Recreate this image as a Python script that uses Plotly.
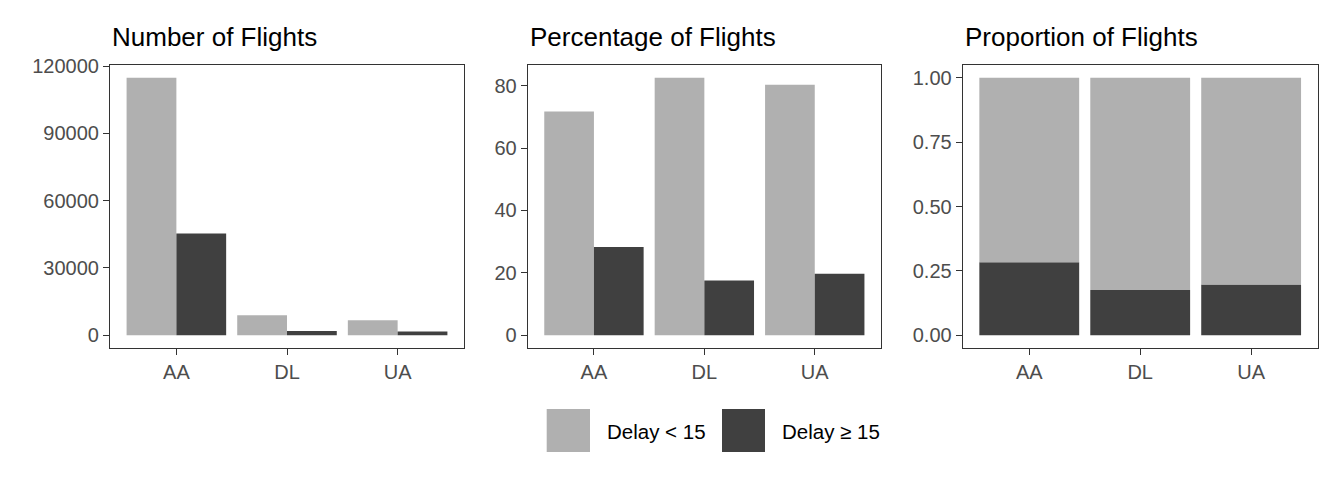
import plotly.graph_objects as go
from plotly.subplots import make_subplots

carriers = ["AA", "DL", "UA"]
labels = ["Delay < 15", "Delay ≥ 15"]
colors = ["#B0B0B0", "#404040"]

# counts
n_ontime = [114800, 8870, 6650]
n_delayed = [45300, 1880, 1630]

# percentages
pct_ontime = [71.7, 82.5, 80.3]
pct_delayed = [28.3, 17.5, 19.7]

prop_ontime = [p / 100 for p in pct_ontime]
prop_delayed = [p / 100 for p in pct_delayed]

titles = ["Number of Flights", "Percentage of Flights", "Proportion of Flights"]

W, H = 1344, 480
FONT = "Liberation Sans, Arial, sans-serif"

fig = make_subplots(rows=1, cols=3)

# grouped bars in panels 1 and 2
for col, (a, b) in enumerate([(n_ontime, n_delayed), (pct_ontime, pct_delayed)], start=1):
    fig.add_trace(go.Bar(x=carriers, y=a, name=labels[0], marker_color=colors[0],
                         marker_line_width=0, offsetgroup="a", showlegend=False), row=1, col=col)
    fig.add_trace(go.Bar(x=carriers, y=b, name=labels[1], marker_color=colors[1],
                         marker_line_width=0, offsetgroup="b", showlegend=False), row=1, col=col)

# stacked proportions in panel 3 (same offsetgroup, light bar sits on the dark one)
fig.add_trace(go.Bar(x=carriers, y=prop_delayed, name=labels[1], marker_color=colors[1],
                     marker_line_width=0, offsetgroup="s", showlegend=False), row=1, col=3)
fig.add_trace(go.Bar(x=carriers, y=prop_ontime, base=prop_delayed, name=labels[0],
                     marker_color=colors[0], marker_line_width=0, offsetgroup="s",
                     showlegend=False), row=1, col=3)

# panel placement, in pixels
x_px = [(110, 464), (527.7, 881), (962.7, 1317.7)]
y_dom = [1 - 348 / H, 1 - 65 / H]


def padded(vmax):
    return [-0.05 * vmax, 1.05 * vmax]


y_ranges = [padded(max(n_ontime)), padded(max(pct_ontime)), padded(1.0)]
y_ticks = [[0, 30000, 60000, 90000, 120000], [0, 20, 40, 60, 80], [0, 0.25, 0.5, 0.75, 1.0]]
y_fmt = ["d", "d", ".2f"]

axis_style = dict(showline=True, linecolor="#333333", linewidth=1.1, mirror=True,
                  ticks="outside", ticklen=6, tickwidth=1.1, tickcolor="#333333",
                  showgrid=False, zeroline=False, automargin=False,
                  tickfont=dict(family=FONT, size=20, color="#4D4D4D"))

for i in range(3):
    sfx = "" if i == 0 else str(i + 1)
    x0, x1 = x_px[i]
    fig.layout["xaxis" + sfx].update(domain=[x0 / W, x1 / W], range=[-0.6, 2.6], **axis_style)
    fig.layout["yaxis" + sfx].update(domain=y_dom, range=y_ranges[i], tickvals=y_ticks[i],
                                     tickformat=y_fmt[i], **axis_style)
    fig.add_annotation(text=titles[i], xref="paper", yref="paper", x=x0 / W, y=1 - 54 / H,
                       xanchor="left", yanchor="bottom", showarrow=False,
                       font=dict(family=FONT, size=26, color="black"))

# legend drawn by hand below the panels
keys = [(546.7, 590), (722, 765)]
text_x = [605, 780]
for k in range(2):
    fig.add_shape(type="rect", xref="paper", yref="paper",
                  x0=keys[k][0] / W, x1=keys[k][1] / W, y0=1 - 452 / H, y1=1 - 409 / H,
                  fillcolor=colors[k], line_width=0)
    fig.add_annotation(text=labels[k], xref="paper", yref="paper", x=text_x[k] / W,
                       y=1 - 431 / H, xanchor="left", yanchor="middle", showarrow=False,
                       font=dict(family=FONT, size=20.5, color="black"))

fig.update_layout(width=W, height=H, margin=dict(l=0, r=0, t=0, b=0),
                  barmode="group", bargap=0.1, bargroupgap=0,
                  plot_bgcolor="white", paper_bgcolor="white")

fig.write_html("out.html", config={"displayModeBar": False},
               post_script="document.body.style.margin='0';")
